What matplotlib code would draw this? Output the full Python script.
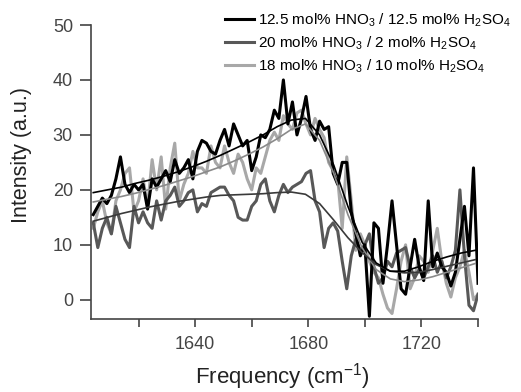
import numpy as np
import matplotlib
matplotlib.use("Agg")
import matplotlib.pyplot as plt

plt.rcParams["font.family"] = ["Liberation Sans", "DejaVu Sans"]
plt.rcParams["mathtext.fontset"] = "custom"
plt.rcParams["mathtext.rm"] = "Liberation Sans"
plt.rcParams["mathtext.it"] = "Liberation Sans:italic"

# frequency grid of the measured spectra (cm-1)
freq = np.arange(86) * 1.6 + 1604

# 12.5 mol% HNO3 / 12.5 mol% H2SO4
black_data = [15.5, 17, 18.5, 17.5, 19, 22, 26, 21, 19.5, 21,
              20, 21, 16.5, 22, 20.5, 22, 23.5, 21.5, 25.5, 23,
              24, 25.5, 22, 27, 29, 28.5, 27, 26.5, 29, 31,
              28, 32, 30, 28, 29, 23.5, 26, 30, 29.5, 31,
              34.5, 33, 40, 32, 36, 30, 33, 37, 31, 29,
              32.5, 31, 31.5, 23, 21, 25, 25, 16, 12, 8,
              10, -3, 14, 13, 3, 10, 18, 10, 2, 1,
              6, 11, 6, 3.5, 18, 6, 8.5, 6, 5, 2.5,
              5, 11, 17, 8, 24, 3]

# 20 mol% HNO3 / 2 mol% H2SO4
dark_data = [14, 9.5, 13, 15, 12, 17, 14, 11, 9.5, 17,
             14, 16, 14, 13, 18, 14.5, 18, 19, 20.5, 17,
             18, 19.5, 20, 16, 17.5, 17, 19.5, 20, 20.5, 20.5,
             19, 18, 15, 14.5, 14.5, 17, 18, 21, 22, 18,
             16, 19, 21, 19.5, 20.5, 21, 21.5, 23, 23.5, 18,
             16, 9.5, 13, 14, 12.5, 7, 2, 8, 11, 9,
             10, 12, 6, 3, 4, 7, 6, 8.5, 9, 9.5,
             6, 4, 5.5, 4, 6, 8, 5, 7, 4, 6,
             9, 20, 8, -1, -2, 1]

# 18 mol% HNO3 / 10 mol% H2SO4
light_data = [13, 16, 18, 14, 12, 18, 20, 23, 24, 16,
              18, 22, 17, 25.5, 20, 26, 16.5, 24, 28.5, 18,
              21, 23, 27, 24, 24, 23, 28, 25, 24, 28,
              25, 23, 26.5, 25, 22, 20, 24, 23, 26, 29,
              30.5, 29, 33.5, 32, 31, 34, 34.5, 32, 30, 33,
              31, 29.5, 25, 23.5, 22, 13, 26, 18, 9, 12,
              10, 7, 5, 4, 1, -1.5, -2.5, 2, 7, 10,
              2, 4, 8, 7, 5, 9, 13, 7, 3, 0.5,
              4, 6, 9, 5, 0, 1]

# fitted curves
fit_freq = np.arange(28) * 5 + 1604
black_fit = [19.5, 20, 20.5, 21.2, 21.8, 22.5, 23.3, 24.2, 25.2, 26.3,
             27.5, 28.7, 30, 31.5, 32.7, 33, 30, 24.5, 17, 10.5,
             6.7, 5.2, 5.2, 6, 7, 7.8, 8.5, 9]
dark_fit = [14.3, 15, 15.7, 16.3, 16.9, 17.4, 17.9, 18.3, 18.7, 19,
            19.1, 19.2, 19.3, 19.5, 19.6, 19.2, 17.5, 14.5, 11.3, 8.6,
            6.4, 5.2, 4.9, 5, 5.5, 6.1, 6.7, 7.3]
light_fit = [17.8, 18.3, 18.8, 19.4, 20.1, 20.8, 21.6, 22.4, 23.3, 24.2,
             25.3, 26.5, 27.8, 29.3, 31, 32, 29, 23, 15.5, 9.5,
             5.5, 3.8, 3.3, 3.6, 4.2, 5, 5.8, 6.6]

labels = [r"12.5 mol% HNO$_3$ / 12.5 mol% H$_2$SO$_4$",
          r"20 mol% HNO$_3$ / 2 mol% H$_2$SO$_4$",
          r"18 mol% HNO$_3$ / 10 mol% H$_2$SO$_4$"]

fig = plt.figure(figsize=(5.21, 3.92), dpi=100)
ax = fig.add_axes([0.1747, 0.1862, 0.7428, 0.75])

l3, = ax.plot(freq, light_data, color="#a8a8a8", lw=2.2, zorder=2)
l2, = ax.plot(freq, dark_data, color="#585858", lw=2.2, zorder=3)
l1, = ax.plot(freq, black_data, color="black", lw=2.2, zorder=4)
ax.plot(fit_freq, light_fit, color="#8a8a8a", lw=1.2, zorder=5)
ax.plot(fit_freq, dark_fit, color="#3a3a3a", lw=1.2, zorder=5)
ax.plot(fit_freq, black_fit, color="black", lw=1.2, zorder=6)

ax.set_xlim(1603.2, 1740)
ax.set_ylim(-3.5, 50)
ax.set_xticks([1640, 1680, 1720])
ax.set_xticks([1620, 1660, 1700, 1740], minor=True)
ax.set_yticks([0, 10, 20, 30, 40, 50])

for s in ["top", "right"]:
    ax.spines[s].set_visible(False)
for s in ["left", "bottom"]:
    ax.spines[s].set_color("#444444")
    ax.spines[s].set_linewidth(1.2)

ax.tick_params(axis="x", which="both", direction="out", length=6, width=1.2,
               color="#444444", labelsize=13, labelcolor="#444444", pad=6)
ax.tick_params(axis="y", direction="out", length=8, width=1.2,
               color="#444444", labelsize=13, labelcolor="#444444", pad=5)

ax.set_xlabel(r"Frequency (cm$^{-1}$)", fontsize=16, color="#222222")
ax.set_ylabel("Intensity (a.u.)", fontsize=15.5, color="#222222")
ax.xaxis.set_label_coords(0.494, -0.142)
ax.yaxis.set_label_coords(-0.152, 0.558)

fig.legend([l1, l2, l3], labels, loc="upper left",
           bbox_to_anchor=(0.415, 0.995), frameon=False, fontsize=11,
           handlelength=1.85, handletextpad=0.3, labelspacing=0.38,
           borderaxespad=0.2)

fig.savefig("out.png", dpi=100)
